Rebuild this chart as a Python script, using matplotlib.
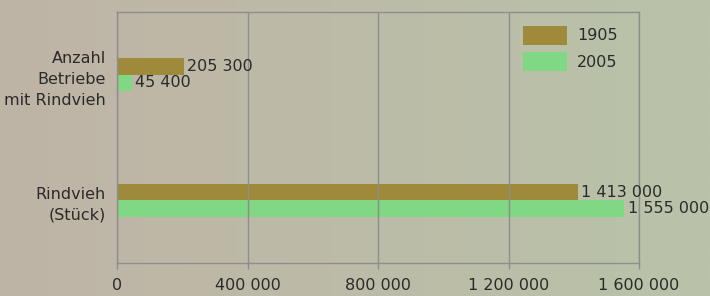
import numpy as np
import matplotlib
matplotlib.use("Agg")
import matplotlib.pyplot as plt

categories = ["Rindvieh\n(Stück)", "Anzahl\nBetriebe\nmit Rindvieh"]
values_1905 = [1413000, 205300]
values_2005 = [1555000, 45400]
labels_1905 = ["1 413 000", "205 300"]
labels_2005 = ["1 555 000", "45 400"]
xticks = [0, 400000, 800000, 1200000, 1600000]
xtick_labels = ["0", "400 000", "800 000", "1 200 000", "1 600 000"]

C1905 = "#9e8a3a"
C2005 = "#80d784"
GRID = "#8e8e8e"
TXT = "#2a2a2a"
FS = 11.5

plt.rcParams["font.family"] = ["DejaVu Sans"]

fig = plt.figure(figsize=(7.1, 2.96), dpi=100)

# background gradient brown -> green
bg = fig.add_axes([0, 0, 1, 1], zorder=-10)
grad = np.linspace(0, 1, 256)
c0 = np.array([191, 180, 166]) / 255
c1 = np.array([185, 195, 169]) / 255
img = (c0[None, :] * (1 - grad[:, None]) + c1[None, :] * grad[:, None])[None, :, :]
bg.imshow(img, aspect="auto", extent=[0, 1, 0, 1])
bg.set_axis_off()

W, H = 710, 296
l, r, t, b = 117, 639, 12, 263
ax = fig.add_axes([l / W, 1 - b / H, (r - l) / W, (b - t) / H])
ax.patch.set_alpha(0)

y = np.arange(len(categories))
h = 0.13
ax.barh(y + h / 2, values_1905, height=h, color=C1905, label="1905", zorder=1)
ax.barh(y - h / 2, values_2005, height=h, color=C2005, label="2005", zorder=1)

for yi, v, s in zip(y, values_1905, labels_1905):
    ax.text(v + 10000, yi + h / 2, s, va="center", ha="left", fontsize=FS,
            color=TXT, clip_on=False)
for yi, v, s in zip(y, values_2005, labels_2005):
    ax.text(v + 10000, yi - h / 2, s, va="center", ha="left", fontsize=FS,
            color=TXT, clip_on=False)

ax.set_xlim(0, 1600000)
ax.set_ylim(-0.5, 1.5)
ax.set_xticks(xticks)
ax.set_xticklabels(xtick_labels, fontsize=FS, color=TXT)
ax.set_yticks(y)
ax.set_yticklabels(categories, fontsize=FS, color=TXT, linespacing=1.5)
ax.tick_params(axis="y", length=0, pad=8)
ax.tick_params(axis="x", length=4, color=GRID, width=1, pad=7)
for sp in ax.spines.values():
    sp.set_color(GRID)
    sp.set_linewidth(1)
ax.set_axisbelow(False)
ax.xaxis.grid(True, color=GRID, linewidth=1)

leg = ax.legend(loc="upper left", bbox_to_anchor=(392 / 522, 1.0), frameon=False,
                fontsize=FS, handlelength=2.8, handleheight=1.45,
                labelspacing=0.45, handletextpad=0.6, borderaxespad=0.45)
for txt in leg.get_texts():
    txt.set_color(TXT)

fig.savefig("out.png", dpi=100)
